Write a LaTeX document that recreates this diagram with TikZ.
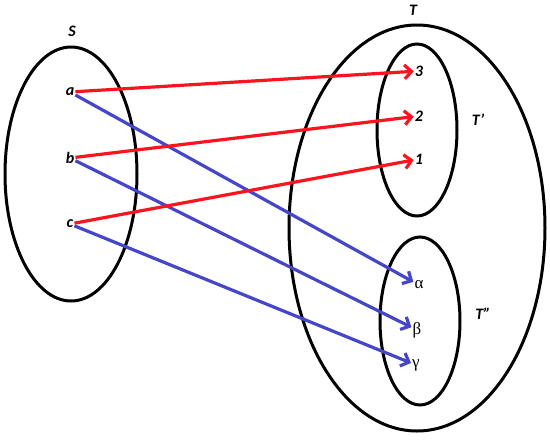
\documentclass[tikz,border=0pt]{standalone}
\usepackage{fontspec}
\setmainfont{Carlito}
\newfontfamily\greekfont{Liberation Serif}
\usetikzlibrary{arrows.meta,shapes.geometric}
\definecolor{myred}{RGB}{250,20,30}
\definecolor{myblue}{RGB}{70,70,200}
\tikzset{
  setshape/.style={draw, ellipse, line width=3pt, inner sep=0pt},
  elem/.style={inner sep=1pt, font=\fontsize{16}{16}\selectfont\bfseries\itshape},
  gelem/.style={inner sep=1pt, font=\fontsize{17}{17}\selectfont\greekfont},
  setlabel/.style={font=\fontsize{16}{16}\selectfont\bfseries\itshape},
  redarr/.style={myred, line width=3.2pt, -{Straight Barb[length=7pt,width=14pt]}},
  bluearr/.style={myblue, line width=3.2pt, -{Straight Barb[length=7pt,width=14pt]}},
}
\begin{document}
\begin{tikzpicture}[x=1pt,y=-1pt]
\useasboundingbox (0,0) rectangle (550,440);
% sets
\node[setshape, minimum width=132pt, minimum height=254pt] (S) at (71,174) {};
\node[setshape, minimum width=256pt, minimum height=406pt] (T) at (417,228) {};
\node[setshape, minimum width=80pt, minimum height=172pt] (Tp) at (417,130) {};
\node[setshape, minimum width=80pt, minimum height=168pt] (Tpp) at (420,321) {};
% set labels
\node[setlabel] (lS) at (72,31) {S};
\node[setlabel] (lT) at (413,10) {T};
\node[setlabel] (lTp) at (478,120) {T'};
\node[setlabel] (lTpp) at (483,314) {T''};
% elements
\node[elem] (a) at (70,92) {a};
\node[elem] (b) at (70,158) {b};
\node[elem] (c) at (70,224) {c};
\node[elem] (n3) at (419,71) {3};
\node[elem] (n2) at (419,116) {2};
\node[elem] (n1) at (419,159) {1};
\node[gelem] (al) at (419,285) {α};
\node[gelem] (be) at (417,330) {β};
\node[gelem] (ga) at (416,365) {γ};
% arrows
\draw[bluearr] (a) -- (al);
\draw[bluearr] (b) -- (be);
\draw[bluearr] (c) -- (ga);
\draw[redarr] (a) -- (n3);
\draw[redarr] (b) -- (n2);
\draw[redarr] (c) -- (n1);
\end{tikzpicture}
\end{document}
